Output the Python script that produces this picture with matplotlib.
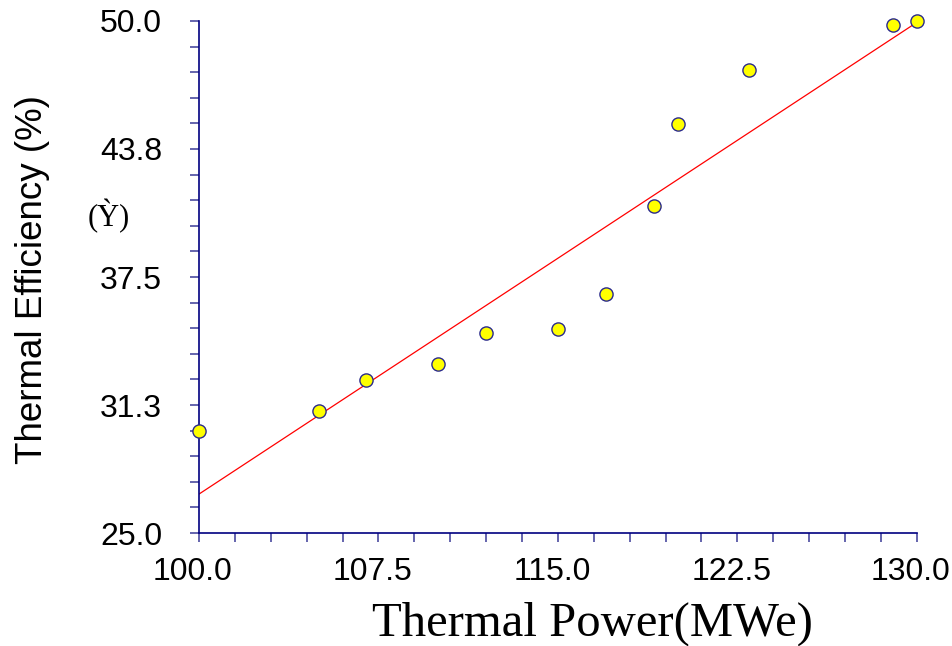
import numpy as np
import matplotlib.pyplot as plt
import matplotlib.transforms as mtransforms
from matplotlib.ticker import FixedLocator, MultipleLocator

# data
power = [100.0, 105.0, 107.0, 110.0, 112.0, 115.0, 117.0, 119.0, 120.0, 123.0, 129.0, 130.0]
efficiency = [30.0, 30.96, 32.47, 33.25, 34.77, 34.96, 36.67, 40.97, 44.97, 47.61, 49.8, 50.0]
fit_x = [100.0, 130.0]
fit_y = [26.9, 49.93]
x_ticks = [100.0, 107.5, 115.0, 122.5, 130.0]
x_labels = ["100.0", "107.5", "115.0", "122.5", "130.0"]
y_ticks = [25.0, 31.25, 37.5, 43.75, 50.0]
y_labels = ["25.0", "31.3", "37.5", "43.8", "50.0"]

plt.rcParams['font.family'] = ['Liberation Sans', 'DejaVu Sans']
serif = ['Liberation Serif', 'DejaVu Serif']

fig = plt.figure(figsize=(9.52, 6.46), dpi=100)
ax = fig.add_axes([0.209, 0.1749, 0.754, 0.7926])

ax.plot(fit_x, fit_y, color='#ff0000', lw=0.9, zorder=2)
ax.scatter(power, efficiency, s=90, facecolor='#ffff00', edgecolor='#2a2a8c',
           linewidth=1.0, zorder=3, clip_on=False)

ax.set_xlim(100, 130)
ax.set_ylim(25, 50)

for side in ['top', 'right']:
    ax.spines[side].set_visible(False)
for side in ['left', 'bottom']:
    ax.spines[side].set_color('#000080')
    ax.spines[side].set_linewidth(1.2)

ax.xaxis.set_major_locator(FixedLocator(x_ticks))
ax.set_xticklabels(x_labels)
ax.xaxis.set_minor_locator(MultipleLocator(1.5, offset=100))
ax.yaxis.set_major_locator(FixedLocator(y_ticks))
ax.set_yticklabels(y_labels)
ax.yaxis.set_minor_locator(MultipleLocator(1.25))

ax.tick_params(which='both', direction='out', length=6.5, width=1.2, color='#4a4aa0')
ax.tick_params(axis='x', which='major', labelsize=23, pad=11)
ax.tick_params(axis='y', which='major', labelsize=23, pad=20)

# the x tick labels sit a little left of their ticks in the original
shift = mtransforms.ScaledTranslation(-6 / 100, 0, fig.dpi_scale_trans)
for lab in ax.get_xticklabels():
    lab.set_transform(lab.get_transform() + shift)

ax.set_ylabel("Thermal Efficiency (%)", fontsize=26.5)
ax.yaxis.set_label_coords(-0.207, 0.495)
ax.set_xlabel("Thermal Power(MWe)", fontsize=35, family=serif, va='baseline')
ax.xaxis.set_label_coords(0.548, -0.2)

fig.text(0.092, 0.665, "(\u1ef2)", fontsize=22, family=serif, ha='left', va='center')

fig.savefig("out.png", dpi=100, facecolor='white')
